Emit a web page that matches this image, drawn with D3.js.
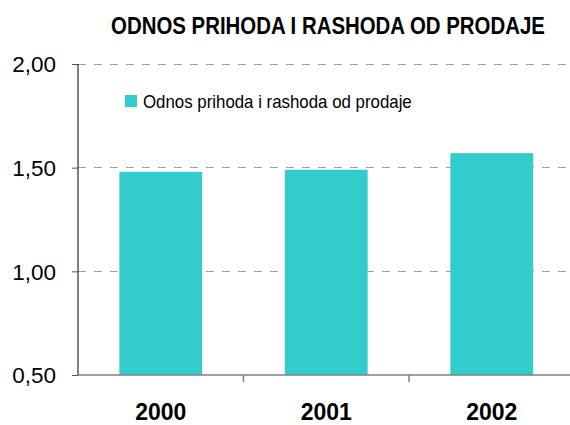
<!DOCTYPE html>
<html><head><meta charset="utf-8">
<script src="https://cdn.jsdelivr.net/npm/d3@7"></script>
<style>body{margin:0;background:#fff}svg{display:block}</style>
</head><body>
<svg id="c" width="570" height="425"></svg>
<script>
const categories = ["2000", "2001", "2002"];
const values = [1.48, 1.49, 1.57];
const yTicks = [0.5, 1.0, 1.5, 2.0];
const title = "ODNOS PRIHODA I RASHODA OD PRODAJE";
const seriesName = "Odnos prihoda i rashoda od prodaje";

(function () {
const svg = d3.select("#c");
const mLeft = 78, mRight = 574.5, mTop = 64, mBottom = 375;
const narrow = "'Liberation Sans Narrow','Arial Narrow','Liberation Sans',Arial,sans-serif";

const x = d3.scaleBand().domain(categories).range([mLeft, mRight]).paddingInner(0.5).paddingOuter(0.25);
const y = d3.scaleLinear().domain([0.5, 2.0]).range([mBottom, mTop]);

// gridlines
svg.append("g").selectAll("line").data(yTicks.filter(d => d > 0.5)).join("line")
  .attr("x1", mLeft).attr("x2", 570).attr("y1", d => y(d)).attr("y2", d => y(d))
  .attr("stroke", "#a0a0a0").attr("stroke-width", 1).attr("stroke-dasharray", "8,8")
  .attr("shape-rendering", "crispEdges");

// bars
svg.append("g").selectAll("rect").data(values).join("rect")
  .attr("x", (d, i) => x(categories[i])).attr("width", x.bandwidth())
  .attr("y", d => y(d)).attr("height", d => y(0.5) - y(d))
  .attr("fill", "#33CCCC");

// y axis
const yAxis = d3.axisLeft(y).tickValues(yTicks).tickSize(6).tickFormat(d => d3.format(".2f")(d).replace(".", ","));
const gy = svg.append("g").attr("transform", `translate(${mLeft},0)`).call(yAxis);
gy.select(".domain").attr("stroke", "#000").attr("d", `M0,${mTop}V${mBottom}`);
gy.selectAll(".tick line").attr("stroke", "#555");
gy.selectAll(".tick text").attr("x", -22).attr("dy", "0.35em")
  .attr("font-family", "'Liberation Sans',Arial,sans-serif").attr("font-size", 22.5).attr("fill", "#000");

// x axis
const xb = d3.scaleLinear().domain([0, 3]).range([mLeft, mRight]);
const gx = svg.append("g").attr("transform", `translate(0,${mBottom})`);
gx.append("line").attr("x1", mLeft).attr("x2", 570).attr("y1", 0).attr("y2", 0).attr("stroke", "#808080").attr("stroke-width", 1.5);
gx.selectAll("line.t").data([1, 2]).join("line").attr("class", "t")
  .attr("x1", d => xb(d)).attr("x2", d => xb(d)).attr("y1", 0).attr("y2", 7).attr("stroke", "#808080").attr("stroke-width", 1.5);
gx.selectAll("text").data(categories).join("text")
  .attr("x", d => x(d) + x.bandwidth() / 2).attr("y", 45).attr("text-anchor", "middle")
  .attr("font-family", "'Liberation Sans',Arial,sans-serif").attr("font-weight", "bold").attr("font-size", 23)
  .attr("fill", "#000").text(d => d);

// helper: squeeze text horizontally to a target width
function squeeze(sel, x0, y0, w, anchor) {
  const nat = sel.node().getComputedTextLength();
  const s = w / nat;
  sel.attr("x", 0).attr("y", 0).attr("text-anchor", anchor)
     .attr("transform", `translate(${x0},${y0}) scale(${s},1)`);
}

// title
const t = svg.append("text").attr("font-family", narrow).attr("font-weight", "bold").attr("font-size", 23).text(title);
squeeze(t, 328, 34, 434, "middle");

// legend
svg.append("rect").attr("x", 125).attr("y", 95).attr("width", 12).attr("height", 12).attr("fill", "#33CCCC");
const l = svg.append("text").attr("font-family", narrow).attr("font-size", 18).text(seriesName);
squeeze(l, 143, 108, 269, "start");
})();
</script>
</body></html>
